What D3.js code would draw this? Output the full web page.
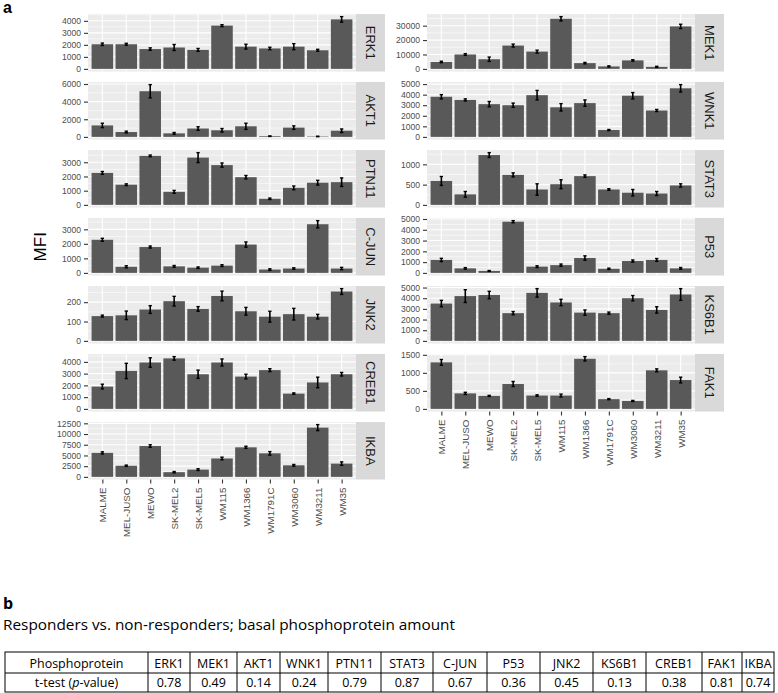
<!DOCTYPE html>
<html>
<head>
<meta charset="utf-8">
<script src="https://cdn.jsdelivr.net/npm/d3@7"></script>
<style>
  body { margin: 0; background: #fff; }
  svg { display: block; }
</style>
</head>
<body>
<svg id="fig" width="778" height="693"></svg>
<script>
// cell lines on the x axis
const cellLines = ['MALME', 'MEL-JUSO', 'MEWO', 'SK-MEL2', 'SK-MEL5', 'WM115', 'WM1366', 'WM1791C', 'WM3060', 'WM3211', 'WM35'];

// facet order (facet_wrap, 2 columns)
const proteins = ['ERK1', 'MEK1', 'AKT1', 'WNK1', 'PTN11', 'STAT3', 'C-JUN', 'P53', 'JNK2', 'KS6B1', 'CREB1', 'FAK1', 'IKBA'];

// mean MFI and error per cell line
const ERK1 = [2050, 2050, 1650, 1780, 1580, 3600, 1850, 1700, 1850, 1550, 4120];
const ERK1_err = [100, 80, 100, 250, 120, 80, 200, 100, 250, 80, 230];
const MEK1 = [4800, 10000, 6700, 16200, 12000, 34800, 4000, 1700, 5900, 1400, 29500];
const MEK1_err = [500, 600, 1500, 1000, 1000, 1500, 500, 400, 500, 400, 1500];
const AKT1 = [1300, 550, 5180, 400, 950, 750, 1200, 80, 1050, 50, 700];
const AKT1_err = [250, 100, 750, 100, 200, 200, 350, 30, 200, 30, 200];
const WNK1 = [3800, 3500, 3100, 3000, 3950, 2800, 3200, 650, 3900, 2500, 4600];
const WNK1_err = [200, 100, 250, 200, 450, 350, 300, 50, 300, 100, 350];
const PTN11 = [2250, 1420, 3450, 920, 3330, 2800, 1950, 430, 1200, 1560, 1600];
const PTN11_err = [100, 60, 60, 100, 350, 150, 120, 50, 130, 170, 300];
const STAT3 = [590, 260, 1230, 740, 380, 510, 710, 380, 300, 280, 480];
const STAT3_err = [110, 70, 60, 50, 140, 110, 30, 20, 80, 50, 40];
const CJUN = [2280, 420, 1780, 450, 360, 500, 1950, 230, 300, 3350, 300];
const CJUN_err = [100, 70, 70, 60, 50, 60, 180, 50, 50, 250, 80];
const P53 = [1200, 420, 180, 4750, 580, 720, 1380, 380, 1100, 1200, 420];
const P53_err = [150, 70, 40, 100, 80, 100, 200, 60, 100, 130, 80];
const JNK2 = [128, 132, 162, 205, 165, 232, 153, 125, 138, 125, 255];
const JNK2_err = [5, 22, 20, 25, 12, 25, 20, 28, 30, 12, 15];
const KS6B1 = [3500, 4200, 4300, 2600, 4500, 3600, 2650, 2600, 4000, 2900, 4350];
const KS6B1_err = [300, 600, 350, 150, 400, 300, 250, 100, 250, 300, 550];
const CREB1 = [1900, 3230, 3950, 4300, 2950, 3950, 2750, 3300, 1300, 2250, 2950];
const CREB1_err = [200, 650, 400, 150, 350, 300, 200, 120, 60, 450, 150];
const FAK1 = [1290, 430, 360, 690, 370, 370, 1390, 270, 220, 1070, 800];
const FAK1_err = [80, 30, 15, 70, 20, 40, 60, 15, 15, 40, 80];
const IKBA = [5600, 2600, 7200, 1100, 1700, 4300, 6900, 5500, 2700, 11500, 3100];
const IKBA_err = [250, 150, 300, 150, 200, 300, 250, 400, 200, 700, 400];

// y-axis tick labels per facet
const ERK1_ticks = [0, 1000, 2000, 3000, 4000];
const MEK1_ticks = [0, 10000, 20000, 30000];
const AKT1_ticks = [0, 2000, 4000, 6000];
const WNK1_ticks = [0, 1000, 2000, 3000, 4000, 5000];
const PTN11_ticks = [0, 1000, 2000, 3000];
const STAT3_ticks = [0, 500, 1000];
const CJUN_ticks = [0, 1000, 2000, 3000];
const P53_ticks = [0, 1000, 2000, 3000, 4000, 5000];
const JNK2_ticks = [0, 100, 200];
const KS6B1_ticks = [0, 1000, 2000, 3000, 4000, 5000];
const CREB1_ticks = [0, 1000, 2000, 3000, 4000];
const FAK1_ticks = [0, 500, 1000, 1500];
const IKBA_ticks = [0, 2500, 5000, 7500, 10000, 12500];

// t-test p-values (table b)
const pValues = ['0.78', '0.49', '0.14', '0.24', '0.79', '0.87', '0.67', '0.36', '0.45', '0.13', '0.38', '0.81', '0.74'];

const panelData = {
  'ERK1': [ERK1, ERK1_err, ERK1_ticks], 'MEK1': [MEK1, MEK1_err, MEK1_ticks],
  'AKT1': [AKT1, AKT1_err, AKT1_ticks], 'WNK1': [WNK1, WNK1_err, WNK1_ticks],
  'PTN11': [PTN11, PTN11_err, PTN11_ticks], 'STAT3': [STAT3, STAT3_err, STAT3_ticks],
  'C-JUN': [CJUN, CJUN_err, CJUN_ticks], 'P53': [P53, P53_err, P53_ticks],
  'JNK2': [JNK2, JNK2_err, JNK2_ticks], 'KS6B1': [KS6B1, KS6B1_err, KS6B1_ticks],
  'CREB1': [CREB1, CREB1_err, CREB1_ticks], 'FAK1': [FAK1, FAK1_err, FAK1_ticks],
  'IKBA': [IKBA, IKBA_err, IKBA_ticks]
};

const svg = d3.select('#fig');
const font = "'Liberation Sans', Arial, sans-serif";

// layout
const colX = [88, 427];
const plotW = 268;
const stripW = 29;
const panelTop = 14;
const panelH = 57.5;
const pitch = 68;

function drawPanel(name, idx, lastInCol) {
  const col = idx % 2;
  const row = Math.floor(idx / 2);
  const [mean, err, ticks] = panelData[name];
  const x0 = colX[col];
  const top = panelTop + row * pitch;
  const g = svg.append('g');

  const x = d3.scaleLinear([0.4, cellLines.length + 0.6], [x0, x0 + plotW]);
  const ymax = d3.max(mean, (d, i) => d + err[i]);
  const y = d3.scaleLinear([-0.05 * ymax, 1.05 * ymax], [top + panelH, top]);

  g.append('rect')
    .attr('x', x0).attr('y', top)
    .attr('width', plotW).attr('height', panelH)
    .attr('fill', '#EBEBEB');

  // minor grid
  const step = ticks[1] - ticks[0];
  const minors = ticks.map(t => t + step / 2).concat([ticks[0] - step / 2])
    .filter(v => v > y.domain()[0] && v < y.domain()[1]);
  g.selectAll('.minor').data(minors).join('line')
    .attr('x1', x0).attr('x2', x0 + plotW)
    .attr('y1', d => y(d)).attr('y2', d => y(d))
    .attr('stroke', '#fff').attr('stroke-width', 0.55);
  // major grid
  g.selectAll('.major').data(ticks).join('line')
    .attr('x1', x0).attr('x2', x0 + plotW)
    .attr('y1', d => y(d)).attr('y2', d => y(d))
    .attr('stroke', '#fff').attr('stroke-width', 1.1);
  g.selectAll('.vmajor').data(cellLines).join('line')
    .attr('x1', (d, i) => x(i + 1)).attr('x2', (d, i) => x(i + 1))
    .attr('y1', top).attr('y2', top + panelH)
    .attr('stroke', '#fff').attr('stroke-width', 1.1);

  // bars
  g.selectAll('.bar').data(mean).join('rect')
    .attr('class', 'bar')
    .attr('x', (d, i) => x(i + 1 - 0.45))
    .attr('width', x(1.45) - x(0.55))
    .attr('y', d => y(d))
    .attr('height', d => y(0) - y(d))
    .attr('fill', '#595959');

  // error bars
  const eb = g.selectAll('.eb').data(mean).join('g').attr('class', 'eb');
  eb.append('line')
    .attr('x1', (d, i) => x(i + 1)).attr('x2', (d, i) => x(i + 1))
    .attr('y1', (d, i) => y(d - err[i])).attr('y2', (d, i) => y(d + err[i]))
    .attr('stroke', '#000').attr('stroke-width', 1.6);
  [-1, 1].forEach(s => {
    eb.append('line')
      .attr('x1', (d, i) => x(i + 1 - 0.07)).attr('x2', (d, i) => x(i + 1 + 0.07))
      .attr('y1', (d, i) => y(d + s * err[i])).attr('y2', (d, i) => y(d + s * err[i]))
      .attr('stroke', '#000').attr('stroke-width', 1.4);
  });

  // y axis
  const yAxis = g.append('g')
    .attr('transform', `translate(${x0},0)`)
    .call(d3.axisLeft(y).tickValues(ticks).tickFormat(d3.format('d')).tickSize(4).tickPadding(3));
  yAxis.select('.domain').remove();
  yAxis.selectAll('line').attr('stroke', '#333').attr('stroke-width', 1.1);
  yAxis.selectAll('text')
    .attr('fill', '#4D4D4D').style('font-family', font).style('font-size', '8.6px');

  // strip
  g.append('rect')
    .attr('x', x0 + plotW).attr('y', top)
    .attr('width', stripW).attr('height', panelH)
    .attr('fill', '#D9D9D9');
  g.append('text')
    .attr('transform', `translate(${x0 + plotW + stripW / 2},${top + panelH / 2}) rotate(90)`)
    .attr('text-anchor', 'middle').attr('dy', '0.36em')
    .attr('fill', '#1A1A1A')
    .style('font-family', font).style('font-size', '13px')
    .text(name);

  if (lastInCol) {
    const xAxis = g.append('g')
      .attr('transform', `translate(0,${top + panelH})`)
      .call(d3.axisBottom(x).tickValues(d3.range(1, cellLines.length + 1))
        .tickFormat(i => cellLines[i - 1]).tickSize(4));
    xAxis.select('.domain').remove();
    xAxis.selectAll('line').attr('stroke', '#333').attr('stroke-width', 1.1);
    xAxis.selectAll('text')
      .attr('transform', 'rotate(-90)')
      .attr('x', -8).attr('y', 0).attr('dy', '0.35em')
      .attr('text-anchor', 'end')
      .attr('fill', '#4D4D4D').style('font-family', font).style('font-size', '9.8px');
  }
}

proteins.forEach((p, i) => drawPanel(p, i, i >= proteins.length - 2));

// y title
svg.append('text')
  .attr('transform', `translate(46,${panelTop + (6 * pitch + panelH) / 2}) rotate(-90)`)
  .attr('text-anchor', 'middle')
  .attr('fill', '#000')
  .style('font-family', font).style('font-size', '17px')
  .text('MFI');

// panel letters
const calib = "'Open Sans', 'Noto Sans', sans-serif";
svg.append('text').attr('x', 3).attr('y', 13)
  .style('font-family', font).style('font-weight', 'bold').style('font-size', '16px')
  .text('a');
svg.append('text').attr('x', 3).attr('y', 609)
  .style('font-family', calib).style('font-weight', 'bold').style('font-size', '16px')
  .text('b');
svg.append('text').attr('x', 3).attr('y', 630)
  .attr('textLength', 452).attr('lengthAdjust', 'spacingAndGlyphs')
  .style('font-family', calib).style('font-size', '15px')
  .text('Responders vs. non-responders; basal phosphoprotein amount');

// table b
const colEdges = [5, 148, 190, 237, 280, 328, 381, 433, 487, 540, 593, 646, 702, 742, 774];
const tTop = 652, tMid = 673, tBot = 692;
const tbl = svg.append('g');
tbl.append('rect')
  .attr('x', colEdges[0]).attr('y', tTop)
  .attr('width', colEdges[colEdges.length - 1] - colEdges[0]).attr('height', tBot - tTop)
  .attr('fill', 'none').attr('stroke', '#000').attr('stroke-width', 1);
tbl.append('line')
  .attr('x1', colEdges[0]).attr('x2', colEdges[colEdges.length - 1])
  .attr('y1', tMid).attr('y2', tMid)
  .attr('stroke', '#000').attr('stroke-width', 1);
tbl.selectAll('.vsep').data(colEdges.slice(1, -1)).join('line')
  .attr('x1', d => d).attr('x2', d => d)
  .attr('y1', tTop).attr('y2', tBot)
  .attr('stroke', '#000').attr('stroke-width', 1);

const headerRow = ['Phosphoprotein'].concat(proteins);
tbl.selectAll('.hcell').data(headerRow).join('text')
  .attr('x', (d, i) => (colEdges[i] + colEdges[i + 1]) / 2)
  .attr('y', tMid - 5.5)
  .attr('text-anchor', 'middle')
  .style('font-family', calib).style('font-size', '12.5px')
  .text(d => d);

const valRow = tbl.selectAll('.vcell').data([null].concat(pValues)).join('text')
  .attr('x', (d, i) => (colEdges[i] + colEdges[i + 1]) / 2)
  .attr('y', tBot - 5)
  .attr('text-anchor', 'middle')
  .style('font-family', calib).style('font-size', '12.5px');
valRow.filter((d, i) => i > 0).text(d => d);
const first = valRow.filter((d, i) => i === 0);
first.append('tspan').text('t-test (');
first.append('tspan').style('font-style', 'italic').text('p');
first.append('tspan').text('-value)');
</script>
</body>
</html>
